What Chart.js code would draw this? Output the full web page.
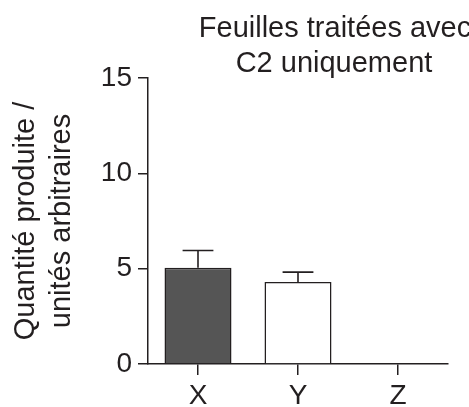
<!DOCTYPE html>
<html><head><meta charset="utf-8">
<script src="https://cdn.jsdelivr.net/npm/chart.js@4/dist/chart.umd.min.js"></script>
<style>html,body{margin:0;padding:0;background:#fff;overflow:hidden}#wrap{width:469px;height:407px;position:relative}</style>
</head><body><div id="wrap"><canvas id="c"></canvas></div>
<script>
const categories = ['X', 'Y', 'Z'];
const values = [5.05, 4.3, 0];
const errors = [0.9, 0.52, 0];
const barColors = ['#555555', '#ffffff', '#ffffff'];
const yTicks = [0, 5, 10, 15];
const titleLines = ['Feuilles traitées avec', 'C2 uniquement'];
const yTitleLines = ['Quantité produite /', 'unités arbitraires'];

const FONT = "'Liberation Sans', Arial, sans-serif";
const INK = '#231f20';

const errorBars = {
  id: 'errorBars',
  afterDatasetsDraw(chart) {
    const ctx = chart.ctx, meta = chart.getDatasetMeta(0), y = chart.scales.y;
    ctx.save();
    ctx.strokeStyle = INK; ctx.lineWidth = 1.6;
    meta.data.forEach((bar, i) => {
      if (!errors[i]) return;
      const top = y.getPixelForValue(values[i] + errors[i]);
      const cap = bar.width * 0.46;
      ctx.beginPath();
      ctx.moveTo(bar.x, bar.y); ctx.lineTo(bar.x, top);
      ctx.moveTo(bar.x - cap / 2, top); ctx.lineTo(bar.x + cap / 2, top);
      ctx.stroke();
    });
    ctx.restore();
  }
};

const titleText = {
  id: 'titleText',
  afterDraw(chart) {
    const ctx = chart.ctx;
    ctx.save();
    ctx.fillStyle = INK; ctx.font = '29px ' + FONT;
    ctx.textAlign = 'center'; ctx.textBaseline = 'alphabetic';
    ctx.fillText(titleLines[0], 335, 37);
    ctx.fillText(titleLines[1], 334, 72);
    ctx.restore();
  }
};

new Chart(document.getElementById('c'), {
  type: 'bar',
  data: {
    labels: categories,
    datasets: [{
      data: values,
      backgroundColor: barColors,
      borderColor: INK,
      borderWidth: 1.5,
      borderSkipped: 'bottom',
      barPercentage: 0.67,
      categoryPercentage: 1
    }]
  },
  options: {
    responsive: true,
    maintainAspectRatio: false,
    animation: false,
    layout: { padding: { top: 78, right: 21, left: 0, bottom: 0 } },
    plugins: { legend: { display: false }, tooltip: { enabled: false }, title: { display: false } },
    scales: {
      x: {
        grid: { offset: false, drawOnChartArea: false, drawTicks: true, tickLength: 11, color: INK, lineWidth: 1.5 },
        border: { display: true, color: INK, width: 1.5 },
        ticks: { font: { family: FONT, size: 28 }, color: INK, padding: 4 },
        afterFit(s) { s.height = 43; }
      },
      y: {
        min: 0, max: 15,
        afterBuildTicks(s) { s.ticks = yTicks.map(v => ({ value: v })); },
        afterFit(s) { s.width = 148; },
        grid: { drawOnChartArea: false, drawTicks: true, tickLength: 10, color: INK, lineWidth: 1.5 },
        border: { display: true, color: INK, width: 1.5 },
        ticks: { font: { family: FONT, size: 28 }, color: INK, padding: 6 },
        title: { display: true, text: yTitleLines, color: INK, font: { family: FONT, size: 29, lineHeight: 1.24 }, padding: { top: 8, bottom: 0 } }
      }
    }
  },
  plugins: [errorBars, titleText]
});
</script></body></html>
